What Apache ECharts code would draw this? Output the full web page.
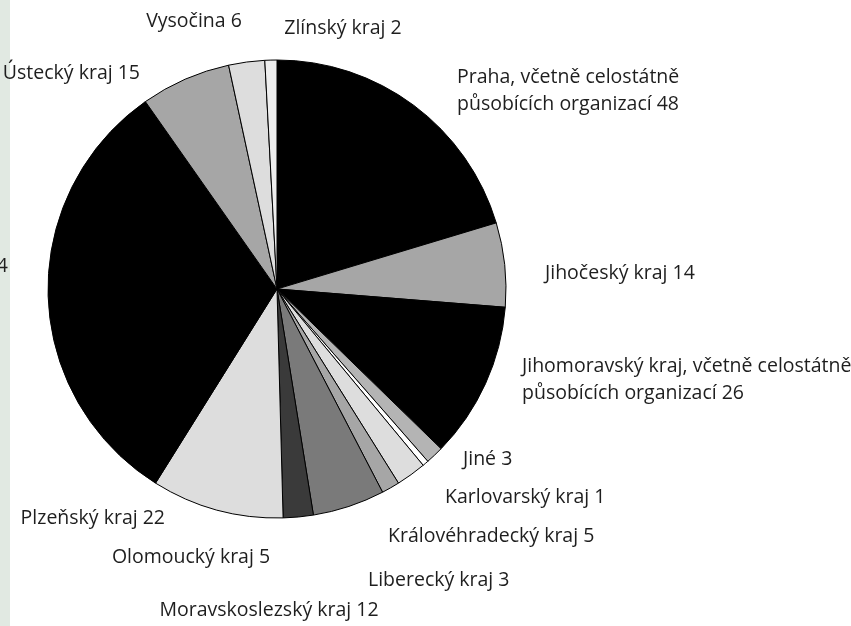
<!DOCTYPE html>
<html>
<head>
<meta charset="utf-8">
<script src="https://cdn.jsdelivr.net/npm/echarts@6/dist/echarts.min.js"></script>
<style>
  html, body { margin: 0; padding: 0; background: #fff; }
  #chart { width: 851px; height: 626px; }
</style>
</head>
<body>
<div id="chart"></div>
<script>
// kraje, ve směru hodinových ručiček od 12 hodin
var names = [
  'Praha, včetně celostátně\npůsobících organizací',
  'Jihočeský kraj',
  'Jihomoravský kraj, včetně celostátně\npůsobících organizací',
  'Jiné',
  'Karlovarský kraj',
  'Královéhradecký kraj',
  'Liberecký kraj',
  'Moravskoslezský kraj',
  'Olomoucký kraj',
  'Plzeňský kraj',
  'Středočeský kraj',
  'Ústecký kraj',
  'Vysočina',
  'Zlínský kraj'
];
var values = [48, 14, 26, 3, 1, 5, 3, 12, 5, 22, 74, 15, 6, 2];

// barvy výsečí
var colors = ['#000000', '#a6a6a6', '#000000', '#b4b4b4', '#ffffff', '#dddddd', '#a6a6a6',
  '#7a7a7a', '#3a3a3a', '#dddddd', '#000000', '#a6a6a6', '#dddddd', '#eeeeee'];

// umístění popisků [x, y, zarovnání]
var labelPos = [
  [457, 91, 'left'], [545, 273, 'left'], [522, 380, 'left'], [463, 459, 'left'],
  [445, 497, 'left'], [388, 536, 'left'], [368, 580, 'left'], [269, 610, 'center'],
  [191, 557, 'center'], [165, 518, 'right'], [8, 266, 'right'], [140, 73, 'right'],
  [194, 21, 'center'], [343, 28, 'center']
];

var chart = echarts.init(document.getElementById('chart'));
chart.setOption({
  animation: false,
  graphic: [{
    type: 'rect', left: 0, top: 0, z: -1,
    shape: { width: 10, height: 626 },
    style: { fill: '#e1e9e2' }
  }],
  series: [{
    type: 'pie',
    center: [277, 289],
    radius: 229,
    startAngle: 90,
    clockwise: true,
    silent: true,
    data: names.map(function (n, i) {
      return { name: n, value: values[i], itemStyle: { color: colors[i] } };
    }),
    itemStyle: { borderColor: '#000', borderWidth: 1 },
    labelLine: { show: false },
    label: {
      show: true,
      position: 'outside',
      overflow: 'none',
      width: 400,
      formatter: '{b} {c}',
      fontFamily: 'Open Sans',
      fontSize: 19.5,
      lineHeight: 27,
      color: '#1e1e1e'
    },
    labelLayout: function (params) {
      var p = labelPos[params.dataIndex];
      return { x: p[0], y: p[1], align: p[2], verticalAlign: 'middle', moveOverlap: false, hideOverlap: false };
    }
  }]
});
</script>
</body>
</html>
